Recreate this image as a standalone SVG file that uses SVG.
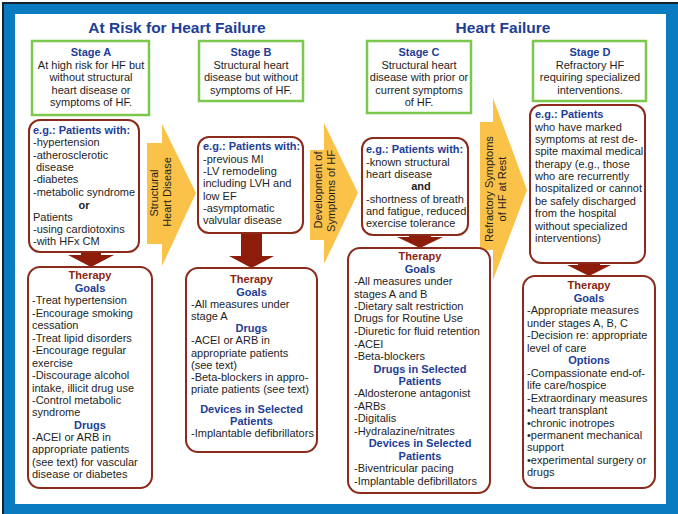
<svg xmlns="http://www.w3.org/2000/svg" width="678" height="514" viewBox="0 0 678 514">
<style>
text{font-family:"Liberation Sans",Arial,Helvetica,sans-serif;font-size:11px;fill:#1e1e1e}
.c{text-anchor:middle}
.nv{fill:#1d3e95;font-weight:bold}
.rd{fill:#8c2413;font-weight:bold}
.bd{font-weight:bold}
.ttl{font-size:15.5px;font-weight:bold;fill:#1d3e95;text-anchor:middle}
.stg{fill:#fff;stroke:#7cc74e;stroke-width:2.5}
.box{fill:#fff;stroke:#8b2b1b;stroke-width:2}
.ya{fill:#fbc24a}
.ra{fill:#8d1c0b}
</style>
<rect x="0" y="0" width="678" height="514" fill="#ffffff"/>
<rect x="3" y="3" width="675" height="511" fill="#0a7bc1"/>
<path d="M3,514V3H678" fill="none" stroke="#16212e" stroke-width="2"/>
<rect x="15" y="14" width="651" height="490" fill="#ffffff"/>

<g id="titles">
<text class="ttl" x="177" y="33">At Risk for Heart Failure</text>
<text class="ttl" x="503" y="33">Heart Failure</text>
</g>

<g id="connectors">
<g id="arrow-structural">
<polygon class="ya" points="147,143 162,143 162,124 196,193 162,266 162,244 147,244"/>
<text class="c" transform="translate(158,193) rotate(-90)">Structural</text>
<text class="c" transform="translate(171,192) rotate(-90)">Heart Disease</text>
</g>
<g id="arrow-development">
<polygon class="ya" points="310,150 324,150 324,123 358,193 324,264 324,240 310,240"/>
<text class="c" transform="translate(322,190) rotate(-90)">Development of</text>
<text class="c" transform="translate(335,191) rotate(-90)">Symptoms of HF</text>
</g>
<g id="arrow-refractory">
<polygon class="ya" points="480,122 493,122 493,98 527,190 493,280 493,250 480,250"/>
<text class="c" transform="translate(493,189) rotate(-90)">Refractory Symptoms</text>
<text class="c" transform="translate(506,189) rotate(-90)">of HF at Rest</text>
</g>
<polygon class="ra" points="81,250 101,250 101,255 114,255 91,267 68,255 81,255"/>
<polygon class="ra" points="241,232 262,232 262,256 274,256 251.5,268 229,256 241,256"/>
<polygon class="ra" points="409,234 431,234 431,237 443,237 420,248 397,237 409,237"/>
<polygon class="ra" points="578,262 600,262 600,265 611,265 589,276 567,265 578,265"/>
</g>

<g id="stage-a">
<rect class="stg" x="32" y="41" width="117" height="74"/>
<text class="c nv" x="91" y="56">Stage A</text>
<text class="c" x="91" y="68.5">At high risk for HF but</text>
<text class="c" x="91" y="81">without structural</text>
<text class="c" x="91" y="93.5">heart disease or</text>
<text class="c" x="91" y="106">symptoms of HF.</text>
</g>
<g id="stage-b">
<rect class="stg" x="199" y="41" width="104" height="60"/>
<text class="c nv" x="251" y="56">Stage B</text>
<text class="c" x="251" y="68.5">Structural heart</text>
<text class="c" x="251" y="81">disease but without</text>
<text class="c" x="251" y="93.5">symptoms of HF.</text>
</g>
<g id="stage-c">
<rect class="stg" x="367" y="41" width="104" height="72"/>
<text class="c nv" x="419" y="56">Stage C</text>
<text class="c" x="419" y="68.5">Structural heart</text>
<text class="c" x="419" y="81">disease with prior or</text>
<text class="c" x="419" y="93.5">current symptoms</text>
<text class="c" x="419" y="106">of HF.</text>
</g>
<g id="stage-d">
<rect class="stg" x="533" y="41" width="113" height="60"/>
<text class="c nv" x="590" y="56">Stage D</text>
<text class="c" x="590" y="68.5">Refractory HF</text>
<text class="c" x="590" y="81">requiring specialized</text>
<text class="c" x="590" y="93.5">interventions.</text>
</g>

<g id="patients-a">
<rect class="box" x="29" y="120" width="110" height="132" rx="11"/>
<text class="nv" x="33" y="134">e.g.: Patients with:</text>
<text x="33" y="146">-hypertension</text>
<text x="33" y="158.5">-atherosclerotic</text>
<text x="36" y="171">disease</text>
<text x="33" y="183">-diabetes</text>
<text x="33" y="195.5">-metabolic syndrome</text>
<text class="c bd" x="84" y="209">or</text>
<text x="33" y="220.5">Patients</text>
<text x="33" y="233">-using cardiotoxins</text>
<text x="33" y="245">-with HFx CM</text>
</g>
<g id="patients-b">
<rect class="box" x="198" y="137" width="105" height="96" rx="11"/>
<text class="nv" x="203" y="150">e.g.: Patients with:</text>
<text x="203" y="163">-previous MI</text>
<text x="203" y="175">-LV remodeling</text>
<text x="203" y="187">including LVH and</text>
<text x="203" y="199.5">low EF</text>
<text x="203" y="212">-asymptomatic</text>
<text x="203" y="223.5">valvular disease</text>
</g>
<g id="patients-c">
<rect class="box" x="362" y="138" width="106" height="97" rx="11"/>
<text class="nv" x="366" y="153">e.g.: Patients with:</text>
<text x="366" y="166">-known structural</text>
<text x="366" y="177.5">heart disease</text>
<text class="c bd" x="421" y="190">and</text>
<text x="366" y="203">-shortness of breath</text>
<text x="366" y="214.5">and fatigue, reduced</text>
<text x="366" y="227">exercise tolerance</text>
</g>
<g id="patients-d">
<rect class="box" x="530" y="105" width="115" height="158" rx="11"/>
<text class="nv" x="535" y="118">e.g.: Patients</text>
<text x="535" y="130.5">who have marked</text>
<text x="535" y="143">symptoms at rest de-</text>
<text x="535" y="155">spite maximal medical</text>
<text x="535" y="167.5">therapy (e.g., those</text>
<text x="535" y="180">who are recurrently</text>
<text x="535" y="192">hospitalized or cannot</text>
<text x="535" y="204.5">be safely discharged</text>
<text x="535" y="217">from the hospital</text>
<text x="535" y="229.5">without specialized</text>
<text x="535" y="242">interventions)</text>
</g>

<g id="therapy-a">
<rect class="box" x="28" y="267" width="124" height="221" rx="12"/>
<text class="c rd" x="90" y="279">Therapy</text>
<text class="c nv" x="90" y="292">Goals</text>
<text x="32" y="304">-Treat hypertension</text>
<text x="32" y="316.5">-Encourage smoking</text>
<text x="32" y="329">cessation</text>
<text x="32" y="341.5">-Treat lipid disorders</text>
<text x="32" y="354">-Encourage regular</text>
<text x="32" y="366.5">exercise</text>
<text x="32" y="379">-Discourage alcohol</text>
<text x="32" y="391.5">intake, illicit drug use</text>
<text x="32" y="404">-Control metabolic</text>
<text x="32" y="416">syndrome</text>
<text class="c nv" x="90" y="428.5">Drugs</text>
<text x="32" y="441">-ACEI or ARB in</text>
<text x="32" y="453">appropriate patients</text>
<text x="32" y="465.5">(see text) for vascular</text>
<text x="32" y="478">disease or diabetes</text>
</g>
<g id="therapy-b">
<rect class="box" x="186" y="268" width="131" height="184" rx="12"/>
<text class="c rd" x="251.5" y="283">Therapy</text>
<text class="c nv" x="251.5" y="296">Goals</text>
<text x="191" y="307.5">-All measures under</text>
<text x="191" y="320">stage A</text>
<text class="c nv" x="251.5" y="332">Drugs</text>
<text x="191" y="344">-ACEI or ARB in</text>
<text x="191" y="356.5">appropriate patients</text>
<text x="191" y="368.5">(see text)</text>
<text x="191" y="380.5">-Beta-blockers in appro-</text>
<text x="191" y="393">priate patients (see text)</text>
<text class="c nv" x="251.5" y="413">Devices in Selected</text>
<text class="c nv" x="251.5" y="425">Patients</text>
<text x="191" y="437">-Implantable defibrillators</text>
</g>
<g id="therapy-c">
<rect class="box" x="348" y="248" width="142" height="245" rx="12"/>
<text class="c rd" x="420" y="260">Therapy</text>
<text class="c nv" x="420" y="273">Goals</text>
<text x="354" y="285">-All measures under</text>
<text x="354" y="297.5">stages A and B</text>
<text x="354" y="310">-Dietary salt restriction</text>
<text x="354" y="322">Drugs for Routine Use</text>
<text x="354" y="335">-Diuretic for fluid retention</text>
<text x="354" y="347.5">-ACEI</text>
<text x="354" y="360">-Beta-blockers</text>
<text class="c nv" x="420" y="372.5">Drugs in Selected</text>
<text class="c nv" x="420" y="385">Patients</text>
<text x="354" y="397">-Aldosterone antagonist</text>
<text x="354" y="409.5">-ARBs</text>
<text x="354" y="422">-Digitalis</text>
<text x="354" y="434.5">-Hydralazine/nitrates</text>
<text class="c nv" x="420" y="447">Devices in Selected</text>
<text class="c nv" x="420" y="459.5">Patients</text>
<text x="354" y="472">-Biventricular pacing</text>
<text x="354" y="484.5">-Implantable defibrillators</text>
</g>
<g id="therapy-d">
<rect class="box" x="523" y="276" width="132" height="212" rx="12"/>
<text class="c rd" x="589" y="289">Therapy</text>
<text class="c nv" x="589" y="302">Goals</text>
<text x="527" y="314">-Appropriate measures</text>
<text x="527" y="327">under stages A, B, C</text>
<text x="527" y="339">-Decision re: appropriate</text>
<text x="527" y="351.5">level of care</text>
<text class="c nv" x="589" y="364">Options</text>
<text x="527" y="376.5">-Compassionate end-of-</text>
<text x="527" y="389">life care/hospice</text>
<text x="527" y="401.5">-Extraordinary measures</text>
<text x="527" y="414">•heart transplant</text>
<text x="527" y="426.5">•chronic inotropes</text>
<text x="527" y="439">•permanent mechanical</text>
<text x="527" y="451">support</text>
<text x="527" y="463.5">•experimental surgery or</text>
<text x="527" y="476">drugs</text>
</g>
</svg>
